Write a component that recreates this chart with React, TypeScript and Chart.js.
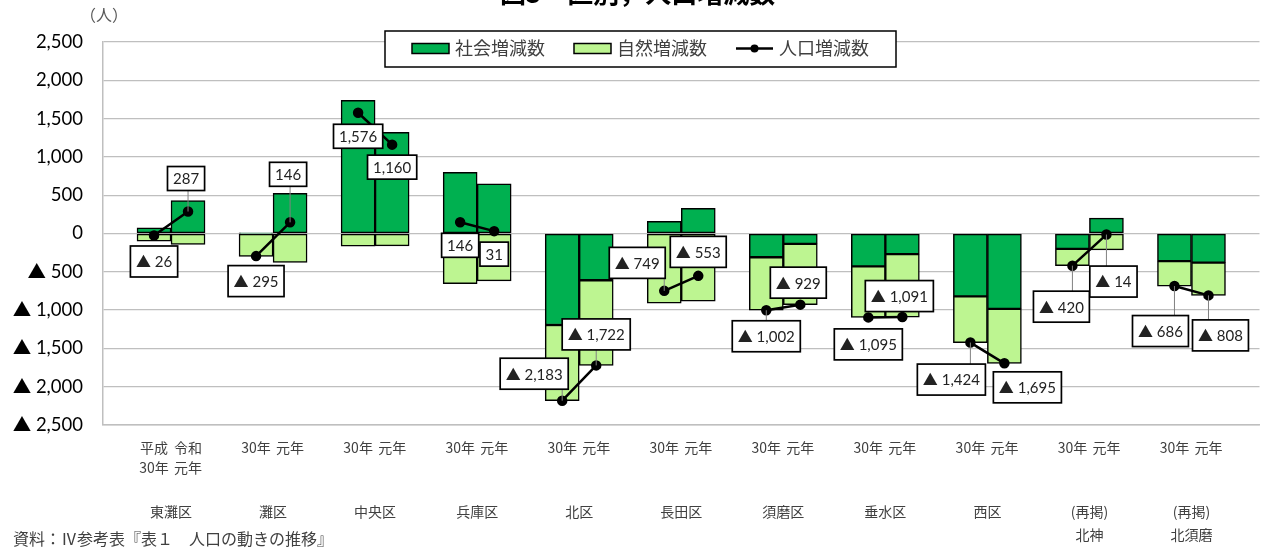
import { useEffect, useRef } from 'react';
import { Chart, registerables } from 'chart.js';

Chart.register(...registerables);

// ---- data ----
const districts: string[][] = [
  ['東灘区'], ['灘区'], ['中央区'], ['兵庫区'], ['北区'], ['長田区'],
  ['須磨区'], ['垂水区'], ['西区'], ['(再掲)', '北神'], ['(再掲)', '北須磨'],
];
const yearH30: (string | string[])[] = [['平成', '30年'], '30年', '30年', '30年', '30年', '30年', '30年', '30年', '30年', '30年', '30年'];
const yearR1: (string | string[])[] = [['令和', '元年'], '元年', '元年', '元年', '元年', '元年', '元年', '元年', '元年', '元年', '元年'];

const socialH30 = [75, 3, 1740, 800, -1195, 160, -310, -430, -820, -200, -360];
const naturalH30 = [-101, -298, -164, -654, -988, -909, -692, -665, -604, -220, -326];
const popH30 = [-26, -295, 1576, 146, -2183, -749, -1002, -1095, -1424, -420, -686];

const socialR1 = [430, 525, 1322, 650, -610, 330, -135, -270, -985, 200, -380];
const naturalR1 = [-143, -379, -162, -619, -1112, -883, -794, -821, -710, -214, -428];
const popR1 = [287, 146, 1160, 31, -1722, -553, -929, -1091, -1695, -14, -808];

const seriesNames = ['社会増減数', '自然増減数', '人口増減数'];
const yTickMin = -2500;
const yTickMax = 2500;
const yTickStep = 500;

// ---- label placement (pixel offsets from point to label box centre) ----
const offH30: [number, number][] = [[0, 26], [0, 25], [0, 23.5], [0, 23], [-28, -27], [-27, -28], [0, 26], [0, 27], [-19, 37], [-11, 41], [-14, 45]];
const offR1: [number, number][] = [[-2, -33], [-2, -48], [0, 22.5], [0, 23], [0, -31], [0, -24], [-2, -22], [-3, -21], [23, 24], [7, 47], [12, 40]];
const leadH30 = [false, false, false, false, true, true, true, false, true, true, true];
const leadR1 = [true, true, false, false, true, false, false, false, false, true, true];

const DARK = '#00B050';
const LIGHT = '#BDF591';
const FONT = "Lato, 'Noto Sans CJK JP', sans-serif";
const CJK = "'Noto Sans CJK JP', sans-serif";

// build category table (blank, H30, R1 per district, trailing blank)
const categories: (string | string[])[] = [];
const socialData: (number | null)[] = [];
const naturalData: (number | null)[] = [];
const popData: (number | null)[] = [];
districts.forEach((_, k) => {
  categories.push('', yearH30[k], yearR1[k]);
  socialData.push(null, socialH30[k], socialR1[k]);
  naturalData.push(null, naturalH30[k], naturalR1[k]);
  popData.push(null, popH30[k], popR1[k]);
});
categories.push('');
socialData.push(null);
naturalData.push(null);
popData.push(null);

const fmtNum = (v: number) => {
  const s = Math.abs(v).toLocaleString('en-US');
  return v < 0 ? '▲ ' + s : s;
};

const overlay = {
  id: 'overlay',
  afterDraw(chart: any) {
    const ctx: CanvasRenderingContext2D = chart.ctx;
    const meta = chart.getDatasetMeta(2);
    ctx.save();

    // data labels
    const items: { idx: number; off: [number, number]; lead: boolean }[] = [];
    districts.forEach((_, k) => {
      items.push({ idx: 3 * k + 1, off: offH30[k], lead: leadH30[k] });
      items.push({ idx: 3 * k + 2, off: offR1[k], lead: leadR1[k] });
    });
    ctx.font = `15px ${FONT}`;
    for (const it of items) {
      const pt = meta.data[it.idx];
      const v = popData[it.idx] as number;
      const text = fmtNum(v);
      const tw = ctx.measureText(text).width;
      const w = tw + 11;
      const h = v < 0 ? 31 : 24;
      const cx = pt.x + it.off[0];
      const cy = pt.y + it.off[1];
      const bx = cx - w / 2;
      const by = cy - h / 2;
      if (it.lead) {
        const nx = Math.min(Math.max(pt.x, bx), bx + w);
        const ny = Math.min(Math.max(pt.y, by), by + h);
        ctx.strokeStyle = '#808080';
        ctx.lineWidth = 1;
        ctx.beginPath();
        ctx.moveTo(pt.x, pt.y);
        ctx.lineTo(nx, ny);
        ctx.stroke();
      }
      ctx.fillStyle = '#fff';
      ctx.fillRect(bx, by, w, h);
      ctx.strokeStyle = '#000';
      ctx.lineWidth = 1.7;
      ctx.strokeRect(bx, by, w, h);
      ctx.fillStyle = '#222';
      ctx.textAlign = 'center';
      ctx.textBaseline = 'middle';
      ctx.fillText(text, cx, cy + 1);
    }

    // legend
    const ds = chart.data.datasets;
    ctx.fillStyle = '#fff';
    ctx.fillRect(385, 31, 511, 36);
    ctx.strokeStyle = '#000';
    ctx.lineWidth = 1.5;
    ctx.strokeRect(385, 31, 511, 36);
    ctx.font = `18px ${CJK}`;
    ctx.textAlign = 'left';
    ctx.textBaseline = 'middle';
    let x = 412;
    const ly = 48.5;
    ds.forEach((d: any, i: number) => {
      if (d.type === 'line') {
        ctx.strokeStyle = d.borderColor;
        ctx.lineWidth = 2.5;
        ctx.beginPath();
        ctx.moveTo(x, ly);
        ctx.lineTo(x + 37, ly);
        ctx.stroke();
        ctx.fillStyle = d.pointBackgroundColor;
        ctx.beginPath();
        ctx.arc(x + 18.5, ly, 4, 0, Math.PI * 2);
        ctx.fill();
      } else {
        ctx.fillStyle = d.backgroundColor;
        ctx.fillRect(x, ly - 5, 37, 10);
        ctx.strokeStyle = '#000';
        ctx.lineWidth = 1.5;
        ctx.strokeRect(x, ly - 5, 37, 10);
      }
      ctx.fillStyle = '#404040';
      ctx.fillText(seriesNames[i], x + 43, ly);
      x += 43 + ctx.measureText(seriesNames[i]).width + 29;
    });

    // title (clipped at top), unit, source
    ctx.fillStyle = '#000';
    ctx.font = `bold 26px ${CJK}`;
    ctx.textAlign = 'left';
    ctx.textBaseline = 'middle';
    ctx.fillText('図5　区別，人口増減数', 500, -7);

    ctx.fillStyle = '#595959';
    ctx.font = `16px ${CJK}`;
    ctx.fillText('（人）', 80, 15);

    ctx.fillStyle = '#404040';
    ctx.font = `16px ${CJK}`;
    ctx.fillText('資料：Ⅳ参考表『表１　人口の動きの推移』', 13, 539);

    ctx.restore();
  },
};

export default function App() {
  const ref = useRef<HTMLCanvasElement | null>(null);

  useEffect(() => {
    if (!ref.current) return;
    const chart = new Chart(ref.current, {
      type: 'bar',
      data: {
        labels: categories as any,
        datasets: [
          {
            type: 'bar',
            label: seriesNames[0],
            data: socialData,
            backgroundColor: DARK,
            borderColor: '#000',
            borderWidth: 1.5,
            borderSkipped: false,
            categoryPercentage: 1,
            barPercentage: 1,
            order: 2,
          },
          {
            type: 'bar',
            label: seriesNames[1],
            data: naturalData,
            backgroundColor: LIGHT,
            borderColor: '#000',
            borderWidth: 1.5,
            borderSkipped: false,
            categoryPercentage: 1,
            barPercentage: 1,
            order: 2,
          },
          {
            type: 'line',
            label: seriesNames[2],
            data: popData,
            borderColor: '#000',
            borderWidth: 2.5,
            pointRadius: 4,
            pointBackgroundColor: '#000',
            pointBorderColor: '#000',
            spanGaps: false,
            order: 0,
          },
        ] as any,
      },
      options: {
        responsive: false,
        animation: false,
        layout: { padding: { top: 42, right: 3, left: 0, bottom: 0 } },
        plugins: {
          legend: { display: false },
          title: { display: false },
          tooltip: { enabled: false },
        },
        scales: {
          x: {
            type: 'category',
            stacked: true,
            offset: true,
            weight: 0,
            grid: { display: false, drawTicks: false },
            border: { display: true, color: '#BFBFBF', width: 1.5 },
            ticks: {
              autoSkip: false,
              maxRotation: 0,
              minRotation: 0,
              padding: 13,
              color: '#404040',
              font: { family: CJK, size: 14, lineHeight: 1.43 },
            },
            afterFit: (s: any) => {
              s.height = 60;
            },
          },
          x2: {
            type: 'linear',
            position: 'bottom',
            weight: 1,
            offset: false,
            bounds: 'data',
            min: -0.5,
            max: categories.length - 0.5,
            grid: { display: false, drawTicks: false, offset: false },
            border: { display: false },
            afterBuildTicks: (s: any) => {
              s.ticks = districts.map((_, k) => ({ value: 3 * k + 1.5 }));
            },
            ticks: {
              autoSkip: false,
              maxRotation: 0,
              minRotation: 0,
              padding: 15,
              color: '#404040',
              font: { family: CJK, size: 14, lineHeight: 1.65 },
              callback: (v: any) => districts[Math.round((Number(v) - 1.5) / 3)] as any,
            },
            afterFit: (s: any) => {
              s.height = 64;
            },
          },
          y: {
            stacked: true,
            min: yTickMin,
            max: yTickMax,
            ticks: {
              stepSize: yTickStep,
              padding: 20,
              color: '#000',
              font: { family: FONT, size: 18.5 },
              callback: (v: any) => fmtNum(Number(v)),
            },
            grid: { color: '#BFBFBF', lineWidth: 1.3, drawTicks: false },
            border: { display: true, color: '#BFBFBF', width: 1.5 },
            afterFit: (s: any) => {
              s.width = 103;
            },
          },
        } as any,
      },
      plugins: [overlay],
    });
    return () => chart.destroy();
  }, []);

  return (
    <div style={{ position: 'absolute', left: 0, top: 0, width: 1266, height: 549, background: '#fff' }}>
      <canvas ref={ref} width={1266} height={549} style={{ display: 'block' }} />
    </div>
  );
}
